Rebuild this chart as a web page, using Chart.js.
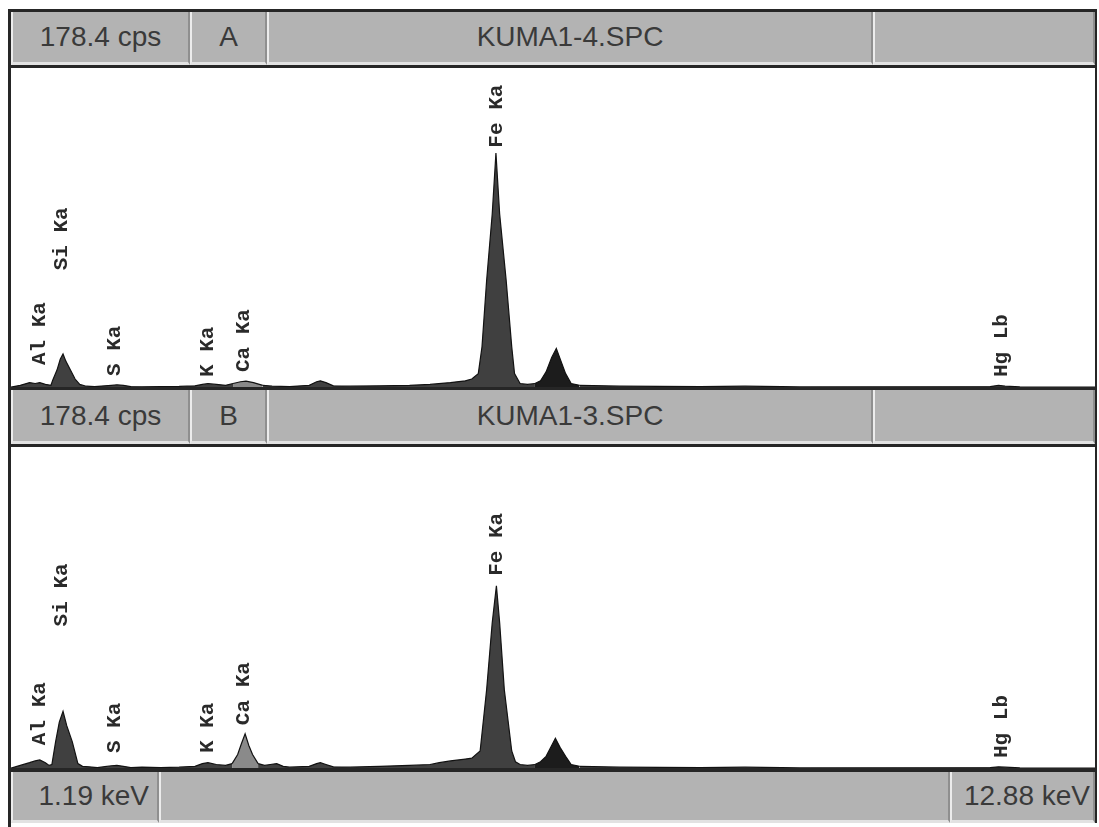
<!DOCTYPE html>
<html>
<head>
<meta charset="utf-8">
<script src="https://cdn.jsdelivr.net/npm/chart.js@4.4.1/dist/chart.umd.min.js"></script>
<style>
  body { margin: 0; background: #fff; width: 1099px; height: 827px; position: relative; overflow: hidden;
         font-family: "Liberation Sans", Arial, sans-serif; }
  .line { position: absolute; background: #262626; z-index: 3; }
  .cell { position: absolute; box-sizing: border-box; background: #b3b3b3; color: #3a3a3a; font-size: 28px;
          display: flex; align-items: center; justify-content: center;
          border-left: 2px solid #ececec; border-right: 2px solid #8f8f8f; border-bottom: 3px solid #e2e2e2; }
  .right { justify-content: flex-end; padding-right: 8px; }
  .plot { position: absolute; left: 11px; width: 1086px; }
</style>
</head>
<body>

<!-- header A -->
<div class="cell" style="left:11px;top:12px;width:179px;height:53px;">178.4 cps</div>
<div class="cell" style="left:190px;top:12px;width:77px;height:53px;">A</div>
<div class="cell" style="left:267px;top:12px;width:606px;height:53px;">KUMA1-4.SPC</div>
<div class="cell" style="left:873px;top:12px;width:222px;height:53px;"></div>
<div class="plot" style="top:68px;height:320px;"><canvas id="specA" width="1086" height="320"></canvas></div>

<!-- header B -->
<div class="cell" style="left:11px;top:390px;width:179px;height:54px;">178.4 cps</div>
<div class="cell" style="left:190px;top:390px;width:77px;height:54px;">B</div>
<div class="cell" style="left:267px;top:390px;width:606px;height:54px;">KUMA1-3.SPC</div>
<div class="cell" style="left:873px;top:390px;width:222px;height:54px;"></div>
<div class="plot" style="top:447px;height:322px;"><canvas id="specB" width="1086" height="322"></canvas></div>

<!-- footer -->
<div class="cell right" style="left:11px;top:772px;width:148px;height:51px;">1.19 keV</div>
<div class="cell" style="left:159px;top:772px;width:791px;height:51px;"></div>
<div class="cell right" style="left:950px;top:772px;width:145px;height:51px;padding-right:3px;">12.88 keV</div>

<!-- frame lines -->
<div class="line" style="left:8px;top:9px;width:1089px;height:3px;"></div>
<div class="line" style="left:8px;top:9px;width:3px;height:818px;"></div>
<div class="line" style="left:1095px;top:9px;width:2px;height:814px;"></div>
<div class="line" style="left:8px;top:65px;width:1089px;height:3px;"></div>
<div class="line" style="left:8px;top:387px;width:1089px;height:3px;"></div>
<div class="line" style="left:8px;top:444px;width:1089px;height:3px;"></div>
<div class="line" style="left:8px;top:768px;width:1089px;height:4px;"></div>

<script>
// energy axis range (keV) and full scale (cps)
const keVMin = 1.19;
const keVMax = 12.88;
const fullScale = 178.4;

// peak labels
const elementLabels = ['Al Ka', 'Si Ka', 'S Ka', 'K Ka', 'Ca Ka', 'Fe Ka', 'Hg Lb'];
const labelKeV = [1.50, 1.74, 2.31, 3.31, 3.70, 6.42, 11.85];
const labelCpsA = [12.8, 65.6, 6.7, 6.1, 8.9, 134, 6.1];
const labelCpsB = [13.2, 79, 8.8, 8.8, 24.3, 107, 6.1];

// spectrum A (KUMA1-4)
const energyA = [1.19, 1.29, 1.39, 1.45, 1.50, 1.56, 1.62, 1.64, 1.685, 1.72, 1.75, 1.78, 1.83, 1.88, 1.93,
  2.00, 2.09, 2.20, 2.27, 2.33, 2.40, 2.48, 2.60, 2.80, 3.00, 3.17, 3.25, 3.31, 3.40, 3.50, 3.58, 3.66, 3.72,
  3.80, 3.90, 4.00, 4.19, 4.40, 4.48, 4.52, 4.58, 4.66, 4.84, 5.16, 5.48, 5.70, 5.92, 6.08, 6.15, 6.22, 6.26,
  6.31, 6.37, 6.41, 6.45, 6.52, 6.58, 6.61, 6.67, 6.75, 6.83, 6.89, 6.95, 7.01, 7.06, 7.11, 7.16, 7.22, 7.31,
  7.74, 8.61, 9.09, 9.68, 10.76, 11.73, 11.82, 11.89, 12.05, 12.48, 12.88];
const countsA = [0.5, 1.5, 3, 2.5, 3, 2, 1.5, 4.5, 10, 16, 19, 15, 10, 5, 2,
  1, 0.8, 1.2, 1.5, 1.8, 1.5, 0.8, 0.7, 0.8, 0.9, 1.2, 2, 2.5, 2, 1.5, 2.5, 3.5, 3.8,
  3, 1.5, 1, 0.8, 1.5, 3.5, 4, 3, 1.2, 1, 1.2, 1.5, 2, 3, 4, 5, 8, 23,
  60, 97, 131, 97, 60, 23, 8, 2.5, 2, 2.5, 4, 9, 17, 22, 15, 8, 2.5, 1.5,
  1, 0.8, 1, 0.6, 0.7, 0.8, 1.5, 1, 0.6, 0.5, 0.5];

// spectrum B (KUMA1-3)
const energyB = [1.19, 1.29, 1.39, 1.45, 1.50, 1.56, 1.60, 1.63, 1.67, 1.71, 1.75, 1.79, 1.85, 1.91, 1.96,
  2.03, 2.12, 2.20, 2.27, 2.33, 2.40, 2.48, 2.60, 2.80, 3.00, 3.17, 3.25, 3.31, 3.40, 3.50, 3.57, 3.63, 3.67,
  3.71, 3.75, 3.79, 3.85, 3.92, 3.98, 4.05, 4.12, 4.19, 4.40, 4.48, 4.52, 4.58, 4.66, 4.84, 5.16, 5.48, 5.70,
  5.80, 5.92, 6.08, 6.15, 6.24, 6.31, 6.37, 6.415, 6.45, 6.50, 6.58, 6.62, 6.67, 6.75, 6.83, 6.89, 6.95, 7.01,
  7.05, 7.10, 7.16, 7.22, 7.31, 7.74, 8.61, 9.09, 9.68, 10.76, 11.73, 11.82, 11.89, 12.05, 12.48, 12.88];
const countsB = [0.5, 2, 3.5, 4.5, 5, 3.5, 2, 2.5, 15, 26, 32, 24, 15, 3, 1.5,
  1.2, 0.8, 1.3, 1.8, 2, 1.5, 0.8, 1, 0.8, 1, 1.5, 3, 3.5, 2.5, 2, 3, 8, 14,
  19.5, 13, 8, 3, 2, 2.5, 3, 1.5, 1, 1.5, 3, 3.5, 2.5, 1.2, 1, 1.5, 2, 2.5,
  3.5, 4.5, 5.5, 6, 10, 44, 81, 101.5, 81, 44, 10, 4, 2.5, 2, 2.5, 4, 7, 13,
  17, 12, 7, 2.5, 1.5, 1, 0.8, 1, 0.6, 0.7, 0.8, 1.2, 1, 0.6, 0.5, 0.5];

// vertical element labels above the peaks
const peakLabels = {
    id: 'peakLabels',
    afterDatasetsDraw(chart, args, opts) {
        const { ctx, scales: { x, y } } = chart;
        ctx.save();
        ctx.font = 'bold 21px "Liberation Mono", monospace';
        ctx.fillStyle = '#2a2a2a';
        ctx.textAlign = 'left';
        ctx.textBaseline = 'middle';
        opts.heights.forEach((h, i) => {
            ctx.save();
            ctx.translate(x.getPixelForValue(labelKeV[i]), y.getPixelForValue(h));
            ctx.rotate(-Math.PI / 2);
            ctx.fillText(elementLabels[i], 0, 0);
            ctx.restore();
        });
        ctx.restore();
    }
};

function fillFor(c) {
    const e = (c.p0.parsed.x + c.p1.parsed.x) / 2;
    if (e > 3.55 && e < 3.88) return '#8a8a8a';   // Ca peak, lighter
    if (e > 6.80 && e < 7.28) return '#1c1c1c';   // Fe Kb, black
    return undefined;
}

function makeSpectrum(id, energy, counts, heights) {
    const ctx = document.getElementById(id).getContext('2d');
    new Chart(ctx, {
        type: 'line',
        data: {
            datasets: [{
                data: energy.map((e, i) => ({ x: e, y: counts[i] })),
                fill: 'origin',
                backgroundColor: '#404040',
                borderColor: '#121212',
                borderWidth: 1.2,
                pointRadius: 0,
                tension: 0,
                segment: { backgroundColor: fillFor }
            }]
        },
        options: {
            responsive: false,
            animation: false,
            layout: { padding: 0 },
            scales: {
                x: { type: 'linear', min: keVMin, max: keVMax, display: false },
                y: { min: 0, max: fullScale, display: false }
            },
            plugins: {
                legend: { display: false },
                tooltip: { enabled: false },
                peakLabels: { heights: heights }
            }
        },
        plugins: [peakLabels]
    });
}

makeSpectrum('specA', energyA, countsA, labelCpsA);
makeSpectrum('specB', energyB, countsB, labelCpsB);
</script>
</body>
</html>
